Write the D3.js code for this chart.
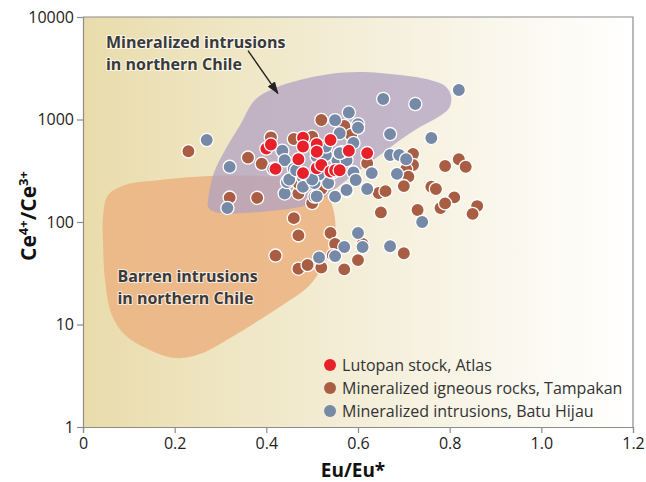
<!DOCTYPE html>
<html>
<head>
<meta charset="utf-8">
<script src="https://cdn.jsdelivr.net/npm/d3@7"></script>
<style>
  body { margin: 0; background: #fff; }
  text { font-family: "Open Sans", "Noto Sans", sans-serif; }
</style>
</head>
<body>
<div id="chart"></div>
<script>
// Eu/Eu* vs Ce4+/Ce3+ values
const lutopan = [
  [0.40, 520], [0.41, 570], [0.42, 330], [0.47, 410], [0.48, 665], [0.48, 545],
  [0.48, 300], [0.51, 575], [0.51, 485], [0.51, 335], [0.52, 360], [0.54, 630],
  [0.54, 310], [0.55, 320], [0.56, 320], [0.58, 495], [0.62, 470]
];
const tampakan = [
  [0.23, 490], [0.36, 425], [0.39, 370], [0.41, 670], [0.46, 645], [0.52, 990],
  [0.50, 680], [0.32, 173], [0.38, 172], [0.46, 109], [0.47, 74], [0.50, 153],
  [0.47, 190], [0.47, 240], [0.52, 210], [0.42, 47], [0.47, 35], [0.49, 38],
  [0.52, 36], [0.57, 34.5], [0.54, 78], [0.55, 61], [0.545, 47.5], [0.60, 42.5],
  [0.61, 61], [0.65, 124], [0.73, 131], [0.70, 49.5], [0.78, 137], [0.645, 192],
  [0.66, 200], [0.57, 865], [0.585, 705], [0.62, 375], [0.72, 460], [0.72, 360],
  [0.705, 327], [0.71, 277], [0.70, 224], [0.79, 352], [0.82, 410], [0.835, 346],
  [0.76, 221], [0.77, 210], [0.81, 174], [0.79, 152], [0.86, 143], [0.85, 120]
];
const batuHijau = [
  [0.27, 630], [0.32, 345], [0.315, 137], [0.82, 1940], [0.655, 1585], [0.725, 1415],
  [0.67, 720], [0.76, 660], [0.67, 450], [0.69, 450], [0.705, 410], [0.685, 295],
  [0.63, 300], [0.62, 210], [0.575, 200], [0.55, 177], [0.60, 78], [0.61, 57],
  [0.57, 57], [0.55, 46.5], [0.515, 45], [0.67, 58], [0.74, 100], [0.505, 177],
  [0.44, 190], [0.58, 1170], [0.55, 985], [0.60, 900], [0.60, 830], [0.59, 590],
  [0.435, 495], [0.44, 400], [0.415, 330], [0.46, 330], [0.445, 245], [0.48, 270],
  [0.48, 220], [0.505, 240], [0.51, 178], [0.535, 240], [0.545, 305], [0.555, 400],
  [0.575, 400], [0.575, 205], [0.59, 305], [0.51, 435], [0.53, 450], [0.565, 480],
  [0.53, 545], [0.56, 470], [0.595, 257], [0.56, 735], [0.45, 260], [0.515, 290],
  [0.465, 320], [0.50, 260]
];

// field outlines from northern Chile
const chileMineralized = [
  [0.273, 164], [0.284, 288], [0.310, 504], [0.343, 884], [0.375, 1550], [0.419, 2030],
  [0.473, 2430], [0.539, 2780], [0.604, 2905], [0.692, 2715], [0.757, 2430], [0.790, 2120],
  [0.803, 1695], [0.799, 1295], [0.775, 1058], [0.735, 845], [0.692, 631], [0.648, 450],
  [0.604, 322], [0.561, 230], [0.517, 164], [0.473, 140], [0.408, 128], [0.343, 122],
  [0.288, 125], [0.273, 140]
];
const chileBarren = [
  [0.044, 117], [0.055, 183], [0.092, 230], [0.168, 257], [0.277, 281], [0.386, 281],
  [0.473, 257], [0.517, 215], [0.539, 164], [0.550, 105], [0.548, 67], [0.528, 41],
  [0.495, 24.3], [0.452, 17.3], [0.386, 11.1], [0.321, 7.4], [0.255, 5.15], [0.201, 4.71],
  [0.146, 5.64], [0.092, 7.9], [0.063, 12.4], [0.048, 27.2], [0.044, 59.7]
];

const xTicks = [0, 0.2, 0.4, 0.6, 0.8, 1.0, 1.2];
const yTicks = [1, 10, 100, 1000, 10000];
const seriesNames = ["Lutopan stock, Atlas", "Mineralized igneous rocks, Tampakan", "Mineralized intrusions, Batu Hijau"];
const seriesColors = ["#e8202a", "#a95d42", "#7689a7"];

const svgWidth = 646;
const svgHeight = 482;
const margin = { top: 17, right: 13, bottom: 55, left: 83 };
const width = svgWidth - margin.left - margin.right;
const height = svgHeight - margin.top - margin.bottom;

const svg = d3.select("#chart").append("svg")
  .attr("width", svgWidth)
  .attr("height", svgHeight);

const defs = svg.append("defs");
const grad = defs.append("linearGradient").attr("id", "bg").attr("x1", 0).attr("x2", 1).attr("y1", 0).attr("y2", 0);
grad.append("stop").attr("offset", "0%").attr("stop-color", "#e9dcab");
grad.append("stop").attr("offset", "50%").attr("stop-color", "#f4eed8");
grad.append("stop").attr("offset", "100%").attr("stop-color", "#ffffff");

const chartGroup = svg.append("g")
  .attr("transform", `translate(${margin.left}, ${margin.top})`);

const x = d3.scaleLinear().domain([0, 1.2]).range([0, width]);
const y = d3.scaleLog().domain([1, 10000]).range([height, 0]);

chartGroup.append("rect")
  .attr("width", width)
  .attr("height", height)
  .attr("fill", "url(#bg)");

// fields
const area = d3.line()
  .x(d => x(d[0]))
  .y(d => y(d[1]))
  .curve(d3.curveCatmullRomClosed.alpha(0.5));

chartGroup.append("path")
  .attr("d", area(chileBarren))
  .attr("fill", "#ebb586")
  .attr("opacity", 0.92);

chartGroup.append("path")
  .attr("d", area(chileMineralized))
  .attr("fill", "#b1a2c2")
  .attr("opacity", 0.75);

// frame (top and right)
chartGroup.append("path")
  .attr("d", `M0,0H${width}V${height}`)
  .attr("fill", "none")
  .attr("stroke", "#8c8c8c")
  .attr("stroke-width", 1.2);

// axes
const bottomAxis = d3.axisBottom(x)
  .tickValues(xTicks)
  .tickSize(6)
  .tickPadding(5)
  .tickFormat(d => d === 0 ? "0" : d3.format(".1f")(d));
const leftAxis = d3.axisLeft(y)
  .tickValues(yTicks)
  .tickSize(6)
  .tickPadding(3)
  .tickFormat(d3.format("d"));

const xAxis = chartGroup.append("g")
  .attr("transform", `translate(0, ${height})`)
  .call(bottomAxis);
const yAxis = chartGroup.append("g")
  .call(leftAxis);

[xAxis, yAxis].forEach(ax => {
  ax.select(".domain").attr("stroke", "#8c8c8c").attr("stroke-width", 1.2);
  ax.selectAll(".tick line").attr("stroke", "#8c8c8c").attr("stroke-width", 1.2);
  ax.selectAll(".tick text")
    .attr("fill", "#222")
    .style("font-size", "16px")
    .style("font-family", "'Open Sans', sans-serif");
});

// annotations
const label = (lines, px, py) => {
  const t = chartGroup.append("text")
    .attr("x", x(px))
    .attr("y", y(py))
    .attr("fill", "#3a3a3a")
    .attr("stroke", "#fff")
    .attr("stroke-width", 2.2)
    .attr("stroke-opacity", 0.7)
    .attr("paint-order", "stroke")
    .style("font-size", "16px")
    .style("font-weight", "bold");
  lines.forEach((s, i) => {
    t.append("tspan").attr("x", x(px)).attr("dy", i === 0 ? 0 : 22).text(s);
  });
};
label(["Mineralized intrusions", "in northern Chile"], 0.05, 5000);
label(["Barren intrusions", "in northern Chile"], 0.075, 26);

defs.append("marker")
  .attr("id", "arrow")
  .attr("viewBox", "0 0 10 10")
  .attr("refX", 9).attr("refY", 5)
  .attr("markerWidth", 9).attr("markerHeight", 9)
  .attr("orient", "auto")
  .append("path")
  .attr("d", "M0,1.5L10,5L0,8.5Z")
  .attr("fill", "#222");

chartGroup.append("line")
  .attr("x1", x(0.36)).attr("y1", y(4700))
  .attr("x2", x(0.425)).attr("y2", y(1800))
  .attr("stroke", "#222")
  .attr("stroke-width", 1.4)
  .attr("marker-end", "url(#arrow)");

// points
const drawPoints = (data, color) => {
  chartGroup.append("g").selectAll("circle")
    .data(data)
    .enter()
    .append("circle")
    .attr("cx", d => x(d[0]))
    .attr("cy", d => y(d[1]))
    .attr("r", 6.6)
    .attr("fill", color)
    .attr("stroke", "#fff")
    .attr("stroke-width", 1.3);
};
drawPoints(tampakan, seriesColors[1]);
drawPoints(batuHijau, seriesColors[2]);
drawPoints(lutopan, seriesColors[0]);

// legend
const legend = chartGroup.append("g")
  .attr("transform", `translate(${x(0.539)}, ${y(4.03)})`);
seriesNames.forEach((name, i) => {
  const row = legend.append("g").attr("transform", `translate(0, ${i * 23})`);
  row.append("circle").attr("r", 6).attr("fill", seriesColors[i]);
  row.append("text")
    .attr("x", 12)
    .attr("dy", "0.35em")
    .attr("fill", "#333")
    .style("font-size", "16px")
    .text(name);
});

// axis titles
svg.append("text")
  .attr("x", margin.left + width / 2 - 5)
  .attr("y", 477)
  .attr("text-anchor", "middle")
  .attr("fill", "#111")
  .style("font-size", "19px")
  .style("font-weight", "bold")
  .text("Eu/Eu*");

const yTitle = svg.append("text")
  .attr("transform", `translate(36, ${margin.top + height / 2 - 6}) rotate(-90)`)
  .attr("text-anchor", "middle")
  .attr("fill", "#111")
  .style("font-size", "21px")
  .style("font-weight", "bold");
yTitle.append("tspan").text("Ce");
yTitle.append("tspan").attr("dy", -8).style("font-size", "13px").text("4+");
yTitle.append("tspan").attr("dy", 8).text("/Ce");
yTitle.append("tspan").attr("dy", -8).style("font-size", "13px").text("3+");
</script>
</body>
</html>
